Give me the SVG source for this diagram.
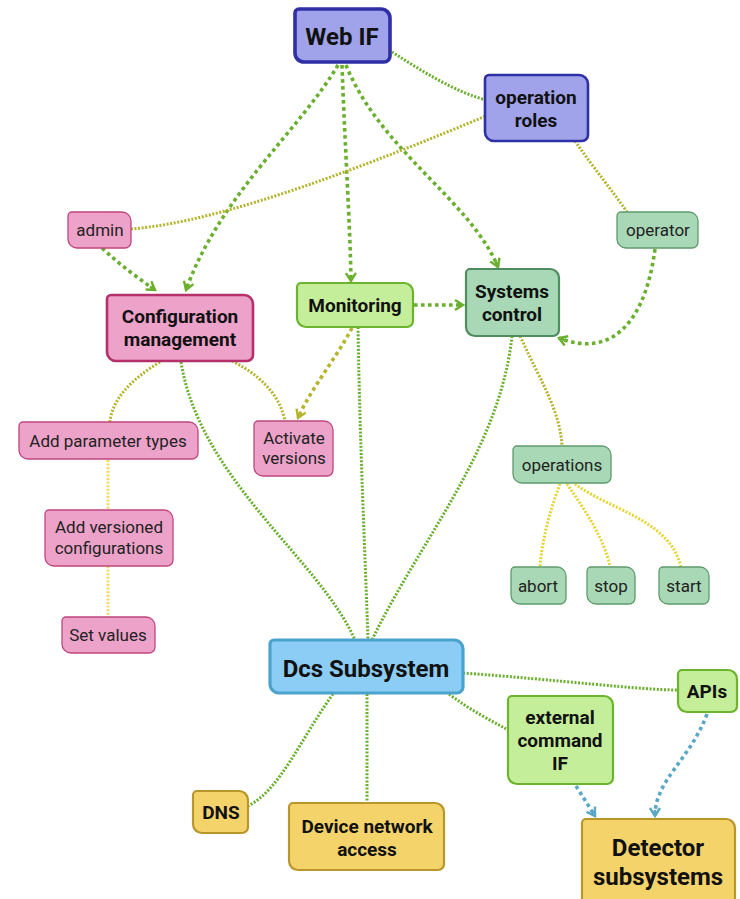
<svg xmlns="http://www.w3.org/2000/svg" width="740" height="899" viewBox="0 0 740 899">
<style>
text{font-family:Roboto,"Liberation Sans",sans-serif;fill:#111;text-anchor:middle}
.b{font-weight:bold;font-size:19px}
.B{font-weight:bold;font-size:24px}
.s{font-size:17px;fill:#222}
.lav{fill:#a0a3ea;stroke:#2f2fa6}
.pk{fill:#eda2c9;stroke:#b5306b}
.pks{fill:#eda2c9;stroke:#c0457e;stroke-width:1.3}
.gr{fill:#c5ee9a;stroke:#6cb42e;stroke-width:2.2}
.sg{fill:#a8d8b5;stroke:#4f8c5f;stroke-width:2.2}
.sgs{fill:#a8d8b5;stroke:#5e9a6c;stroke-width:1.3}
.bl{fill:#8ccdf5;stroke:#4aa3cc;stroke-width:3.2}
.ye{fill:#f5d36b;stroke:#b8962a;stroke-width:2.2}
.e{fill:none}
.ga{stroke:#6ab02e;stroke-width:3.6;stroke-dasharray:3.6 3.4}
.gt{stroke:#6ab02e;stroke-width:3;stroke-dasharray:2 1.6}
.ot{stroke:#b4b42e;stroke-width:3;stroke-dasharray:2 1.6}
.oa{stroke:#b4b42e;stroke-width:3.6;stroke-dasharray:3.6 3.4}
.yt{stroke:#e6d530;stroke-width:3;stroke-dasharray:2 1.6}
.lyt{stroke:#f3da66;stroke-width:3;stroke-dasharray:2 1.6}
.ba{stroke:#5aa8c8;stroke-width:3.6;stroke-dasharray:3.6 3.4}
</style>
<defs>
<marker id="ag" markerUnits="userSpaceOnUse" markerWidth="14" markerHeight="14" refX="10" refY="6" orient="auto"><path d="M2,1 L10,6 L2,11 M10,6 L4,6" fill="none" stroke="#6ab02e" stroke-width="2.4"/></marker>
<marker id="ao" markerUnits="userSpaceOnUse" markerWidth="14" markerHeight="14" refX="10" refY="6" orient="auto"><path d="M2,1 L10,6 L2,11 M10,6 L4,6" fill="none" stroke="#b4b42e" stroke-width="2.4"/></marker>
<marker id="ab" markerUnits="userSpaceOnUse" markerWidth="14" markerHeight="14" refX="10" refY="6" orient="auto"><path d="M2,1 L10,6 L2,11 M10,6 L4,6" fill="none" stroke="#5aa8c8" stroke-width="2.4"/></marker>
</defs>
<g id="connectors" class="e">
<path class="e gt" d="M389,50 C420,70 455,92 486,100"/>
<path class="e ga" d="M338,65 C300,130 220,195 186,290" marker-end="url(#ag)"/>
<path class="e ga" d="M342,65 C345,150 350,220 351,281" marker-end="url(#ag)"/>
<path class="e ga" d="M346,65 C380,150 470,200 498,267" marker-end="url(#ag)"/>
<path class="e ot" d="M131,229 C225,222 380,160 486,116"/>
<path class="e ot" d="M575,141 C595,170 612,190 627,212"/>
<path class="e ga" d="M102,248 C120,265 138,278 155,290" marker-end="url(#ag)"/>
<path class="e ga" d="M655,249 C645,325 610,358 559,338" marker-end="url(#ag)"/>
<path class="e ga" d="M414,305 L463,305" marker-end="url(#ag)"/>
<path class="e oa" d="M352,328 C335,360 310,390 298,418" marker-end="url(#ao)"/>
<path class="e ot" d="M232,361 C260,375 280,395 285,421"/>
<path class="e ot" d="M160,362 C130,380 112,400 110,422"/>
<path class="e gt" d="M181,362 C200,480 320,560 355,640"/>
<path class="e gt" d="M358,327 C360,450 365,550 368,640"/>
<path class="e gt" d="M512,336 C500,450 420,540 372,640"/>
<path class="e ot" d="M520,336 C540,380 560,410 562,446"/>
<path class="e yt" d="M560,484 C550,510 542,540 540,567"/>
<path class="e yt" d="M567,484 C585,510 605,540 610,567"/>
<path class="e yt" d="M575,484 C610,510 670,520 681,567"/>
<path class="e lyt" d="M108,460 L108,510"/>
<path class="e lyt" d="M108,566 L108,617"/>
<path class="e gt" d="M463,673 C560,680 640,690 678,690"/>
<path class="e gt" d="M449,694 C470,710 490,720 508,730"/>
<path class="e gt" d="M333,694 C300,740 280,790 248,806"/>
<path class="e gt" d="M367,694 L367,802"/>
<path class="e ba" d="M576,786 L595,816" marker-end="url(#ab)"/>
<path class="e ba" d="M707,714 C690,760 655,780 655,816" marker-end="url(#ab)"/>
</g>
<g id="n-webif"><path class="lav" stroke-width="3.6" d="M299,9 H381 A9,9 0 0 1 390,18 V56 A6,6 0 0 1 384,62 H304 A9,9 0 0 1 295,53 V13 A4,4 0 0 1 299,9 Z"/><text class="B" x="342" y="44.5">Web IF</text></g>
<g id="n-oproles"><path class="lav" stroke-width="2.6" d="M489,75 H579 A9,9 0 0 1 588,84 V135 A6,6 0 0 1 582,141 H494 A9,9 0 0 1 485,132 V79 A4,4 0 0 1 489,75 Z"/><text class="b" x="536" y="104">operation</text><text class="b" x="536" y="127">roles</text></g>
<g id="n-admin"><path class="pks" d="M72,212 H122 A9,9 0 0 1 131,221 V242 A6,6 0 0 1 125,248 H77 A9,9 0 0 1 68,239 V216 A4,4 0 0 1 72,212 Z"/><text class="s" x="100" y="236">admin</text></g>
<g id="n-operator"><path class="sgs" d="M621,212 H689 A9,9 0 0 1 698,221 V242 A6,6 0 0 1 692,248 H626 A9,9 0 0 1 617,239 V216 A4,4 0 0 1 621,212 Z"/><text class="s" x="658" y="236">operator</text></g>
<g id="n-config"><path class="pk" stroke-width="2.6" d="M111,295 H244 A9,9 0 0 1 253,304 V355 A6,6 0 0 1 247,361 H116 A9,9 0 0 1 107,352 V299 A4,4 0 0 1 111,295 Z"/><text class="b" x="180" y="323">Configuration</text><text class="b" x="180" y="346">management</text></g>
<g id="n-monitoring"><path class="gr" d="M301,283 H404 A9,9 0 0 1 413,292 V321 A6,6 0 0 1 407,327 H306 A9,9 0 0 1 297,318 V287 A4,4 0 0 1 301,283 Z"/><text class="b" x="355" y="312">Monitoring</text></g>
<g id="n-sysctl"><path class="sg" d="M470,269 H550 A9,9 0 0 1 559,278 V330 A6,6 0 0 1 553,336 H475 A9,9 0 0 1 466,327 V273 A4,4 0 0 1 470,269 Z"/><text class="b" x="512" y="298">Systems</text><text class="b" x="512" y="321">control</text></g>
<g id="n-addparam"><path class="pks" d="M23,422 H189 A9,9 0 0 1 198,431 V453 A6,6 0 0 1 192,459 H28 A9,9 0 0 1 19,450 V426 A4,4 0 0 1 23,422 Z"/><text class="s" x="108" y="447">Add parameter types</text></g>
<g id="n-activate"><path class="pks" d="M258,421 H324 A9,9 0 0 1 333,430 V470 A6,6 0 0 1 327,476 H263 A9,9 0 0 1 254,467 V425 A4,4 0 0 1 258,421 Z"/><text class="s" x="294" y="444">Activate</text><text class="s" x="294" y="464">versions</text></g>
<g id="n-addver"><path class="pks" d="M49,510 H164 A9,9 0 0 1 173,519 V560 A6,6 0 0 1 167,566 H54 A9,9 0 0 1 45,557 V514 A4,4 0 0 1 49,510 Z"/><text class="s" x="109" y="533">Add versioned</text><text class="s" x="109" y="554">configurations</text></g>
<g id="n-setvalues"><path class="pks" d="M66,617 H146 A9,9 0 0 1 155,626 V647 A6,6 0 0 1 149,653 H71 A9,9 0 0 1 62,644 V621 A4,4 0 0 1 66,617 Z"/><text class="s" x="108" y="641">Set values</text></g>
<g id="n-operations"><path class="sgs" d="M517,446 H602 A9,9 0 0 1 611,455 V477 A6,6 0 0 1 605,483 H522 A9,9 0 0 1 513,474 V450 A4,4 0 0 1 517,446 Z"/><text class="s" x="562" y="471">operations</text></g>
<g id="n-abort"><path class="sgs" d="M515,567 H557 A9,9 0 0 1 566,576 V598 A6,6 0 0 1 560,604 H520 A9,9 0 0 1 511,595 V571 A4,4 0 0 1 515,567 Z"/><text class="s" x="538" y="592">abort</text></g>
<g id="n-stop"><path class="sgs" d="M591,567 H626 A9,9 0 0 1 635,576 V598 A6,6 0 0 1 629,604 H596 A9,9 0 0 1 587,595 V571 A4,4 0 0 1 591,567 Z"/><text class="s" x="611" y="592">stop</text></g>
<g id="n-start"><path class="sgs" d="M663,567 H700 A9,9 0 0 1 709,576 V598 A6,6 0 0 1 703,604 H668 A9,9 0 0 1 659,595 V571 A4,4 0 0 1 663,567 Z"/><text class="s" x="684" y="592">start</text></g>
<g id="n-dcs"><path class="bl" d="M274,640 H454 A9,9 0 0 1 463,649 V687 A6,6 0 0 1 457,693 H279 A9,9 0 0 1 270,684 V644 A4,4 0 0 1 274,640 Z"/><text class="B" x="366" y="676.5">Dcs Subsystem</text></g>
<g id="n-apis"><path class="gr" d="M682,670 H728 A9,9 0 0 1 737,679 V706 A6,6 0 0 1 731,712 H687 A9,9 0 0 1 678,703 V674 A4,4 0 0 1 682,670 Z"/><text class="b" x="707" y="698">APIs</text></g>
<g id="n-extcmd"><path class="gr" d="M512,696 H604 A9,9 0 0 1 613,705 V778 A6,6 0 0 1 607,784 H517 A9,9 0 0 1 508,775 V700 A4,4 0 0 1 512,696 Z"/><text class="b" x="560" y="724">external</text><text class="b" x="560" y="747">command</text><text class="b" x="560" y="770">IF</text></g>
<g id="n-dns"><path class="ye" d="M197,791 H239 A9,9 0 0 1 248,800 V827 A6,6 0 0 1 242,833 H202 A9,9 0 0 1 193,824 V795 A4,4 0 0 1 197,791 Z"/><text class="b" x="221" y="819">DNS</text></g>
<g id="n-device"><path class="ye" d="M293,803 H435 A9,9 0 0 1 444,812 V864 A6,6 0 0 1 438,870 H298 A9,9 0 0 1 289,861 V807 A4,4 0 0 1 293,803 Z"/><text class="b" x="367" y="833">Device network</text><text class="b" x="367" y="856">access</text></g>
<g id="n-detector"><path class="ye" stroke="#a8861c" stroke-width="3.2" d="M586,819 H726 A9,9 0 0 1 735,828 V903 A6,6 0 0 1 729,909 H591 A9,9 0 0 1 582,900 V823 A4,4 0 0 1 586,819 Z"/><text class="B" x="658" y="856">Detector</text><text class="B" x="658" y="885">subsystems</text></g>
</svg>
